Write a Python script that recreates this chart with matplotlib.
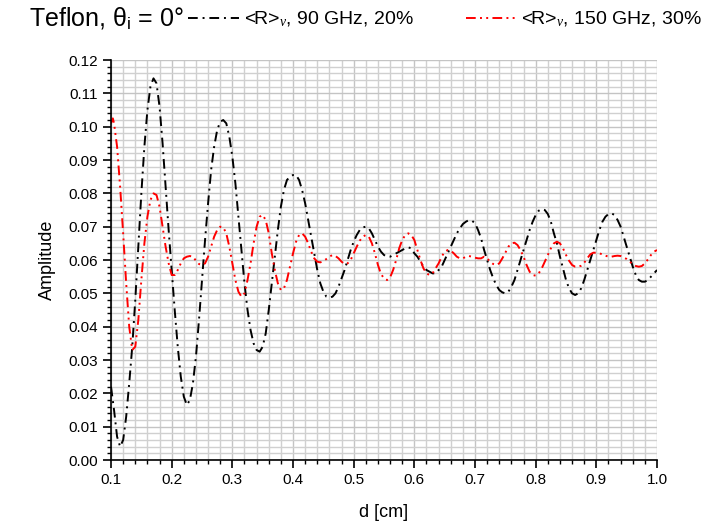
import matplotlib
matplotlib.use("Agg")
import matplotlib.pyplot as plt
import numpy as np
from matplotlib.ticker import MultipleLocator, FormatStrFormatter

plt.rcParams['font.family'] = ['Liberation Sans', 'DejaVu Sans']
plt.rcParams['mathtext.fontset'] = 'custom'
plt.rcParams['mathtext.rm'] = 'Liberation Sans'
plt.rcParams['mathtext.it'] = 'Liberation Serif:italic'

# ---- data ----
d_90 = [0.100, 0.105, 0.110, 0.115, 0.120, 0.125, 0.130, 0.135, 0.140, 0.145,
        0.150, 0.155, 0.160, 0.165, 0.170, 0.175, 0.180, 0.185, 0.190, 0.195,
        0.200, 0.205, 0.210, 0.215, 0.220, 0.225, 0.230, 0.235, 0.240, 0.245,
        0.250, 0.255, 0.260, 0.265, 0.270, 0.275, 0.280, 0.285, 0.290, 0.295,
        0.300, 0.305, 0.310, 0.315, 0.320, 0.325, 0.330, 0.335, 0.340, 0.345,
        0.350, 0.355, 0.360, 0.365, 0.370, 0.375, 0.380, 0.385, 0.390, 0.395,
        0.400, 0.405, 0.410, 0.415, 0.420, 0.425, 0.430, 0.435, 0.440, 0.445,
        0.450, 0.455, 0.460, 0.465, 0.470, 0.475, 0.480, 0.485, 0.490, 0.495,
        0.500, 0.505, 0.510, 0.515, 0.520, 0.525, 0.530, 0.535, 0.540, 0.545,
        0.550, 0.555, 0.560, 0.565, 0.570, 0.575, 0.580, 0.585, 0.590, 0.595,
        0.600, 0.605, 0.610, 0.615, 0.620, 0.625, 0.630, 0.635, 0.640, 0.645,
        0.650, 0.655, 0.660, 0.665, 0.670, 0.675, 0.680, 0.685, 0.690, 0.695,
        0.700, 0.705, 0.710, 0.715, 0.720, 0.725, 0.730, 0.735, 0.740, 0.745,
        0.750, 0.755, 0.760, 0.765, 0.770, 0.775, 0.780, 0.785, 0.790, 0.795,
        0.800, 0.805, 0.810, 0.815, 0.820, 0.825, 0.830, 0.835, 0.840, 0.845,
        0.850, 0.855, 0.860, 0.865, 0.870, 0.875, 0.880, 0.885, 0.890, 0.895,
        0.900, 0.905, 0.910, 0.915, 0.920, 0.925, 0.930, 0.935, 0.940, 0.945,
        0.950, 0.955, 0.960, 0.965, 0.970, 0.975, 0.980, 0.985, 0.990, 0.995,
        1.000]
amp_90 = [0.022, 0.015, 0.007, 0.004, 0.006, 0.013, 0.023, 0.034, 0.048, 0.064,
          0.080, 0.094, 0.105, 0.112, 0.1145, 0.113, 0.106, 0.095, 0.082, 0.069,
          0.057, 0.045, 0.034, 0.025, 0.019, 0.0165, 0.018, 0.023, 0.031, 0.042,
          0.054, 0.066, 0.077, 0.087, 0.094, 0.099, 0.1015, 0.102, 0.101, 0.097,
          0.091, 0.083, 0.073, 0.063, 0.053, 0.045, 0.039, 0.035, 0.033, 0.0325,
          0.034, 0.038, 0.045, 0.053, 0.061, 0.069, 0.076, 0.081, 0.084, 0.085,
          0.0855, 0.0855, 0.084, 0.081, 0.077, 0.072, 0.067, 0.062, 0.057, 0.053,
          0.0505, 0.049, 0.0487, 0.049, 0.050, 0.052, 0.0545, 0.057, 0.060, 0.063,
          0.0655, 0.0675, 0.069, 0.0698, 0.070, 0.0695, 0.068, 0.066, 0.064, 0.0625,
          0.0615, 0.061, 0.061, 0.0615, 0.062, 0.0625, 0.063, 0.0635, 0.0638, 0.0635,
          0.062, 0.061, 0.0595, 0.058, 0.057, 0.0565, 0.056, 0.056, 0.057, 0.058,
          0.060, 0.062, 0.064, 0.066, 0.068, 0.0695, 0.0708, 0.0715, 0.072, 0.0718,
          0.071, 0.069, 0.0665, 0.063, 0.060, 0.057, 0.0545, 0.0525, 0.051, 0.0503,
          0.050, 0.0505, 0.052, 0.054, 0.057, 0.060, 0.063, 0.066, 0.069, 0.0715,
          0.0735, 0.0748, 0.0753, 0.075, 0.0738, 0.0715, 0.068, 0.065, 0.061, 0.0575,
          0.054, 0.0515, 0.050, 0.0495, 0.050, 0.0515, 0.054, 0.057, 0.060, 0.063,
          0.066, 0.069, 0.0715, 0.073, 0.0738, 0.074, 0.0735, 0.072, 0.070, 0.067,
          0.064, 0.061, 0.058, 0.0555, 0.054, 0.0535, 0.0535, 0.054, 0.055, 0.056,
          0.057]

d_150 = [0.100, 0.103, 0.105, 0.110, 0.115, 0.120, 0.125, 0.130, 0.135, 0.140,
         0.145, 0.150, 0.155, 0.160, 0.165, 0.170, 0.175, 0.180, 0.185, 0.190,
         0.195, 0.200, 0.205, 0.210, 0.215, 0.220, 0.225, 0.230, 0.235, 0.240,
         0.245, 0.250, 0.255, 0.260, 0.265, 0.270, 0.275, 0.280, 0.285, 0.290,
         0.295, 0.300, 0.305, 0.310, 0.315, 0.320, 0.325, 0.330, 0.335, 0.340,
         0.345, 0.350, 0.355, 0.360, 0.365, 0.370, 0.375, 0.380, 0.385, 0.390,
         0.395, 0.400, 0.405, 0.410, 0.415, 0.420, 0.425, 0.430, 0.435, 0.440,
         0.445, 0.450, 0.455, 0.460, 0.465, 0.470, 0.475, 0.480, 0.485, 0.490,
         0.495, 0.500, 0.505, 0.510, 0.515, 0.520, 0.525, 0.530, 0.535, 0.540,
         0.545, 0.550, 0.555, 0.560, 0.565, 0.570, 0.575, 0.580, 0.585, 0.590,
         0.595, 0.600, 0.605, 0.610, 0.615, 0.620, 0.625, 0.630, 0.635, 0.640,
         0.645, 0.650, 0.655, 0.660, 0.665, 0.670, 0.675, 0.680, 0.685, 0.690,
         0.695, 0.700, 0.705, 0.710, 0.715, 0.720, 0.725, 0.730, 0.735, 0.740,
         0.745, 0.750, 0.755, 0.760, 0.765, 0.770, 0.775, 0.780, 0.785, 0.790,
         0.795, 0.800, 0.805, 0.810, 0.815, 0.820, 0.825, 0.830, 0.835, 0.840,
         0.845, 0.850, 0.855, 0.860, 0.865, 0.870, 0.875, 0.880, 0.885, 0.890,
         0.895, 0.900, 0.905, 0.910, 0.915, 0.920, 0.925, 0.930, 0.935, 0.940,
         0.945, 0.950, 0.955, 0.960, 0.965, 0.970, 0.975, 0.980, 0.985, 0.990,
         0.995, 1.000]
amp_150 = [0.101, 0.1025, 0.101, 0.094, 0.082, 0.068, 0.053, 0.040, 0.033, 0.034,
           0.042, 0.054, 0.065, 0.073, 0.078, 0.080, 0.0795, 0.076, 0.070, 0.064,
           0.059, 0.0555, 0.0555, 0.057, 0.059, 0.0605, 0.061, 0.0612, 0.061, 0.0598,
           0.0588, 0.0585, 0.059, 0.061, 0.064, 0.067, 0.069, 0.070, 0.0698, 0.068,
           0.064, 0.059, 0.054, 0.0505, 0.049, 0.050, 0.054, 0.059, 0.065, 0.070,
           0.073, 0.0735, 0.072, 0.068, 0.062, 0.057, 0.053, 0.051, 0.0515, 0.054,
           0.058, 0.062, 0.0655, 0.0675, 0.068, 0.067, 0.065, 0.0625, 0.0605, 0.0595,
           0.0593, 0.0597, 0.0603, 0.061, 0.0615, 0.0612, 0.0605, 0.0595, 0.0588, 0.059,
           0.060, 0.062, 0.064, 0.0658, 0.067, 0.0675, 0.067, 0.065, 0.062, 0.0585,
           0.0558, 0.0545, 0.054, 0.0548, 0.057, 0.060, 0.0635, 0.066, 0.0675, 0.068,
           0.0675, 0.066, 0.063, 0.060, 0.0575, 0.056, 0.0555, 0.056, 0.0575, 0.059,
           0.061, 0.0625, 0.063, 0.0628, 0.062, 0.061, 0.0605, 0.0605, 0.061, 0.0612,
           0.061, 0.0607, 0.0605, 0.0605, 0.061, 0.0605, 0.0595, 0.0588, 0.0585, 0.059,
           0.0605, 0.0622, 0.064, 0.065, 0.0652, 0.0645, 0.063, 0.061, 0.0585, 0.0565,
           0.0555, 0.0553, 0.056, 0.0575, 0.0595, 0.0615, 0.0635, 0.065, 0.0655, 0.065,
           0.0635, 0.0615, 0.0598, 0.0585, 0.058, 0.058, 0.0583, 0.0592, 0.0605, 0.0617,
           0.0622, 0.0622, 0.062, 0.0617, 0.0613, 0.061, 0.061, 0.0612, 0.0613, 0.0612,
           0.0608, 0.0603, 0.0595, 0.0588, 0.0582, 0.058, 0.0582, 0.059, 0.0602, 0.0615,
           0.0625, 0.063]

label_90 = r"<R>$_{\nu}$, 90 GHz, 20%"
label_150 = r"<R>$_{\nu}$, 150 GHz, 30%"
title_text = r"Teflon, θ$_{\mathrm{i}}$ = 0°"
x_label = "d [cm]"
y_label = "Amplitude"

fig = plt.figure(figsize=(7.13, 5.27), dpi=100)
ax = fig.add_axes([0.1557, 0.1271, 0.7658, 0.759])

l1, = ax.plot(d_90, amp_90, color='black', lw=1.4, dashes=[5, 2.5, 1, 2.5])
l2, = ax.plot(d_150, amp_150, color='red', lw=1.4, dashes=[5, 2.2, 1, 2.2, 1, 2.2])

ax.set_xlim(0.1, 1.0)
ax.set_ylim(0.0, 0.12)
ax.xaxis.set_major_locator(MultipleLocator(0.1))
ax.xaxis.set_minor_locator(MultipleLocator(0.02))
ax.yaxis.set_major_locator(MultipleLocator(0.01))
ax.yaxis.set_minor_locator(MultipleLocator(0.002))
ax.xaxis.set_major_formatter(FormatStrFormatter('%.1f'))
ax.yaxis.set_major_formatter(FormatStrFormatter('%.2f'))

ax.grid(True, which='major', color='#c4c4c4', lw=1.0)
ax.grid(True, which='minor', color='#d0d0d0', lw=1.0)
ax.set_axisbelow(True)

for s in ['top', 'right']:
    ax.spines[s].set_visible(False)
for s in ['left', 'bottom']:
    ax.spines[s].set_linewidth(1.2)

ax.tick_params(which='major', direction='out', length=6, width=1.2, labelsize=11)
ax.tick_params(which='minor', direction='out', length=3, width=1.0)

ax.set_xlabel(x_label, fontsize=13, labelpad=12)
ax.set_ylabel(y_label, fontsize=13, labelpad=9)

fig.text(0.040, 0.965, title_text, fontsize=18, ha='left', va='center')

fig.legend([l1, l2], [label_90, label_150], loc='center left',
           bbox_to_anchor=(0.264, 0.963), ncol=2, frameon=False,
           fontsize=14, handlelength=2.6, handletextpad=0.25,
           columnspacing=2.7, borderaxespad=0, borderpad=0)

fig.savefig('out.png', dpi=100)
